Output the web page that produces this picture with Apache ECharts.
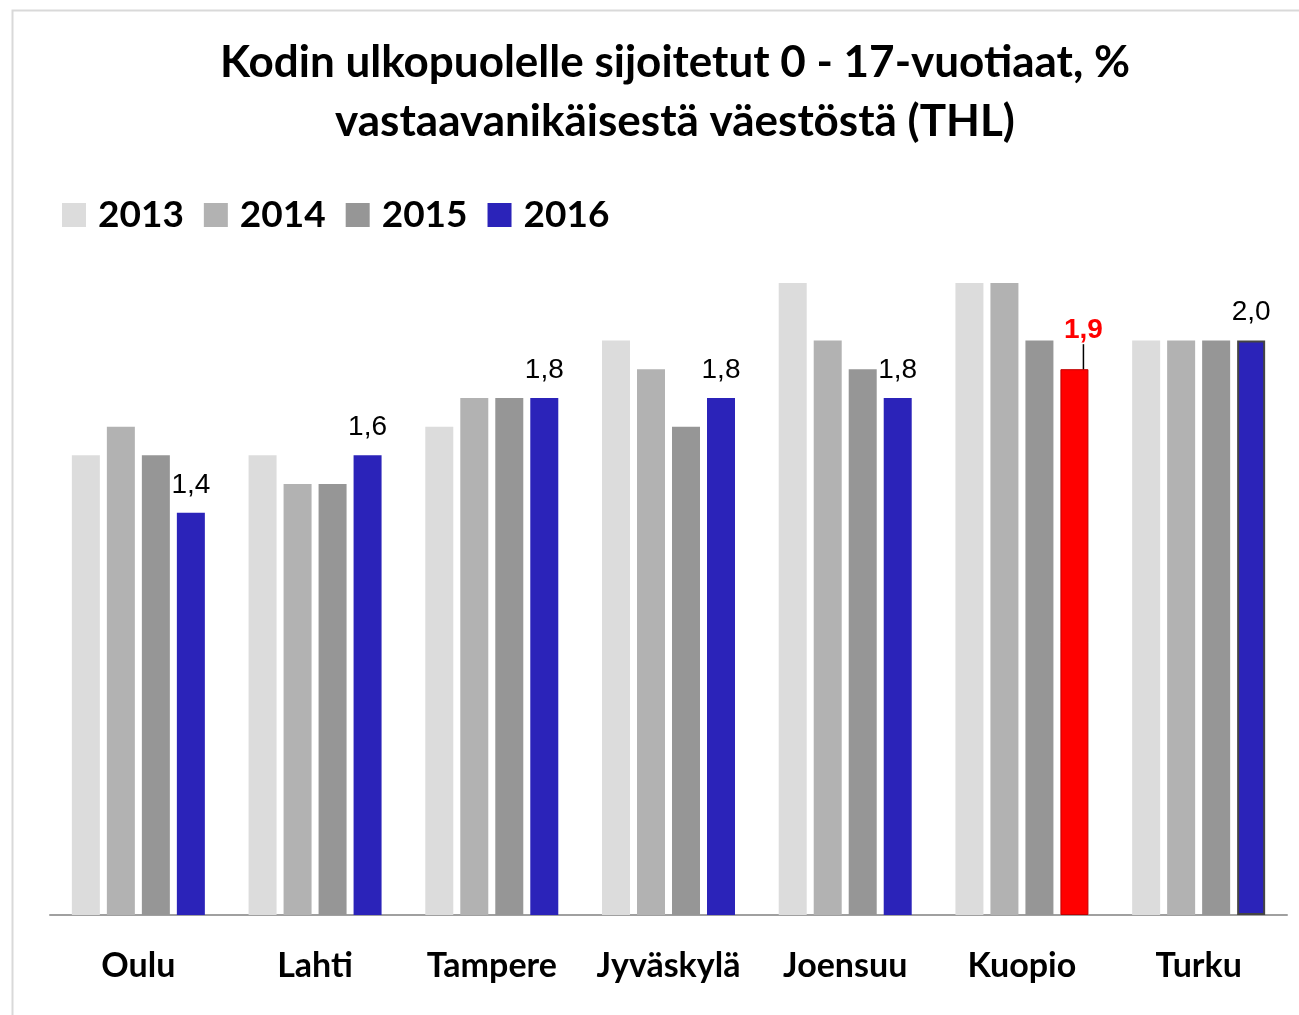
<!DOCTYPE html>
<html>
<head>
<meta charset="utf-8">
<script src="https://cdn.jsdelivr.net/npm/echarts@6/dist/echarts.min.js"></script>
<style>
  html, body { margin: 0; padding: 0; background: #fff; }
  #chart { width: 1299px; height: 1015px; }
</style>
</head>
<body>
<div id="chart"></div>
<script>
const cities = ['Oulu', 'Lahti', 'Tampere', 'Jyväskylä', 'Joensuu', 'Kuopio', 'Turku'];
const years = ['2013', '2014', '2015', '2016'];
const v2013 = [1.6, 1.6, 1.7, 2.0, 2.2, 2.2, 2.0];
const v2014 = [1.7, 1.5, 1.8, 1.9, 2.0, 2.2, 2.0];
const v2015 = [1.6, 1.5, 1.8, 1.7, 1.9, 2.0, 2.0];
const v2016 = [1.4, 1.6, 1.8, 1.8, 1.8, 1.9, 2.0];

const colors = ['#dcdcdc', '#b2b2b2', '#969696', '#2b23b9'];
const highlightCity = 'Kuopio';
const framedCity = 'Turku';

const fmt = (v) => v.toFixed(1).replace('.', ',');

const chart = echarts.init(document.getElementById('chart'));

function barSeries(name, values, color) {
    return {
        name, type: 'bar', data: values,
        barWidth: 28, barGap: '25%',
        itemStyle: { color },
    };
}

const last = barSeries('2016', v2016.map((v, i) => {
    if (cities[i] === highlightCity) {
        return {
            value: v,
            itemStyle: { color: '#ff0000', borderColor: '#c00000', borderWidth: 1 },
            label: { color: '#ff0000', fontWeight: 'bold' },
            labelLine: { show: true, lineStyle: { color: '#000', width: 1.5 } },
        };
    }
    if (cities[i] === framedCity) {
        return { value: v, itemStyle: { borderColor: '#444', borderWidth: 2 } };
    }
    return v;
}), colors[3]);
last.label = {
    show: true, position: 'top', distance: 14,
    fontFamily: 'Liberation Sans', fontSize: 28, color: '#000',
    formatter: (p) => fmt(p.value),
};
last.labelLayout = (p) => p.dataIndex === cities.indexOf(highlightCity) ? { dx: 9, dy: -11 } : {};

chart.setOption({
    animation: false,
    backgroundColor: '#fff',
    graphic: [{
        type: 'rect', left: 10, top: 8,
        shape: { width: 1320, height: 1040 },
        style: { fill: 'none', stroke: '#d9d9d9', lineWidth: 2 },
        silent: true,
    }],
    title: {
        text: 'Kodin ulkopuolelle sijoitetut 0 - 17-vuotiaat, %\nvastaavanikäisestä väestöstä (THL)',
        left: 675, top: 33, textAlign: 'center', padding: 0,
        textStyle: { fontFamily: 'Lato', fontWeight: 'bold', fontSize: 44, lineHeight: 59, color: '#000' },
    },
    legend: {
        left: 62, top: 195, padding: 0,
        itemWidth: 24, itemHeight: 24, itemGap: 20,
        icon: 'rect',
        textStyle: { fontFamily: 'Lato', fontWeight: 'bold', fontSize: 37, lineHeight: 40, color: '#000', padding: [0, 0, 0, 7] },
        data: years,
    },
    grid: { left: 50, right: 12, top: 283, bottom: 100, containLabel: false },
    xAxis: {
        type: 'category', data: cities,
        axisLine: { lineStyle: { color: '#a0a0a0', width: 2 } },
        axisTick: { show: false },
        axisLabel: { interval: 0, fontFamily: 'Lato', fontWeight: 'bold', fontSize: 34, color: '#000', margin: 34 },
    },
    yAxis: {
        type: 'value', min: 0, max: 2.2,
        show: false,
        splitLine: { show: false },
    },
    series: [
        barSeries('2013', v2013, colors[0]),
        barSeries('2014', v2014, colors[1]),
        barSeries('2015', v2015, colors[2]),
        last,
    ],
});
</script>
</body>
</html>
